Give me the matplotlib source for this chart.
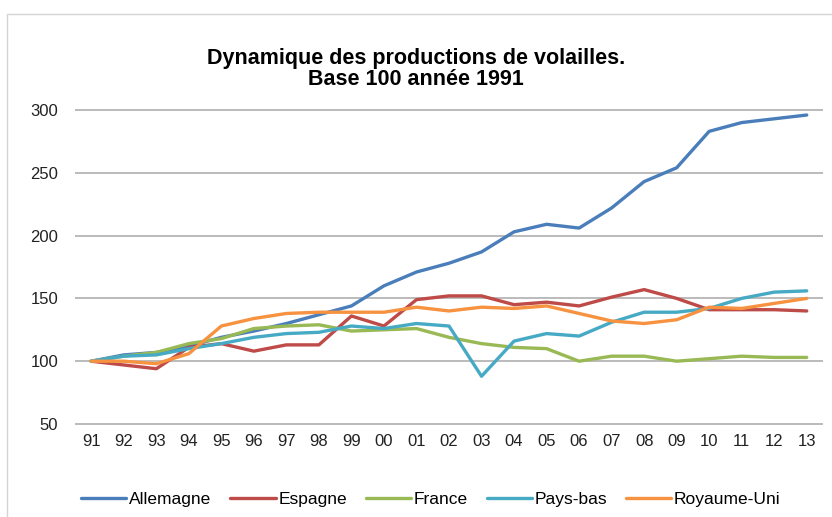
import matplotlib
matplotlib.use('Agg')
import matplotlib.pyplot as plt
from matplotlib.patches import Rectangle

plt.rcParams['font.family'] = ['Liberation Sans', 'DejaVu Sans']

years = ['91', '92', '93', '94', '95', '96', '97', '98', '99', '00', '01', '02',
         '03', '04', '05', '06', '07', '08', '09', '10', '11', '12', '13']

allemagne = [100, 105, 107, 112, 119, 124, 130, 137, 144, 160, 171, 178,
             187, 203, 209, 206, 222, 243, 254, 283, 290, 293, 296]
espagne = [100, 97, 94, 111, 114, 108, 113, 113, 136, 128, 149, 152,
           152, 145, 147, 144, 151, 157, 150, 141, 141, 141, 140]
france = [100, 104, 107, 114, 118, 126, 128, 129, 124, 125, 126, 119,
          114, 111, 110, 100, 104, 104, 100, 102, 104, 103, 103]
pays_bas = [100, 104, 105, 110, 114, 119, 122, 123, 128, 126, 130, 128,
            88, 116, 122, 120, 131, 139, 139, 142, 150, 155, 156]
royaume_uni = [100, 100, 98, 106, 128, 134, 138, 139, 139, 139, 143, 140,
               143, 142, 144, 138, 132, 130, 133, 143, 142, 146, 150]

series = [
    ('Allemagne', allemagne, '#4a7ebb'),
    ('Espagne', espagne, '#be4b48'),
    ('France', france, '#98b954'),
    ('Pays-bas', pays_bas, '#46aac5'),
    ('Royaume-Uni', royaume_uni, '#f69240'),
]
yticks = [50, 100, 150, 200, 250, 300]

fig = plt.figure(figsize=(8.32, 5.17), dpi=100)
# plot area: 50 -> y=424 px, 300 -> y=110 px (axes padded a few px each side)
ax = fig.add_axes([75 / 832, 1 - 430 / 517, (823 - 75) / 832, (430 - 106) / 517])

# chart border (only top/left visible in the crop)
fig.patches.append(Rectangle((7 / 832, -0.1), 1.2, 1 - 14 / 517 + 0.1,
                             transform=fig.transFigure, fill=False,
                             edgecolor='#d4d4d4', linewidth=1))

x = list(range(len(years)))
for name, vals, col in series:
    ax.plot(x, vals, color=col, linewidth=2.4, label=name, solid_capstyle='round')

ax.set_xlim(-0.5, len(years) - 0.5)
ax.set_ylim(50 - 6 * 250 / 314, 300 + 4 * 250 / 314)
ax.set_yticks(yticks)
ax.set_xticks(x)
ax.set_xticklabels(years)
ax.yaxis.grid(True, color='#a8a8a8', linewidth=1.1)
ax.set_axisbelow(True)
for s in ax.spines.values():
    s.set_visible(False)
ax.tick_params(length=0, labelsize=12, colors='#222222')
ax.tick_params(axis='y', pad=12)
ax.tick_params(axis='x', pad=3)

fig.text(0.5, 1 - 69 / 517, 'Dynamique des productions de volailles.\nBase 100 année 1991',
         ha='center', va='center', fontsize=15.5, fontweight='bold', linespacing=1.05)

fig.legend(loc='center', bbox_to_anchor=(431 / 832, 1 - 499 / 517), ncol=5, frameon=False,
           fontsize=12.5, handlelength=2.6, handletextpad=0.15, columnspacing=1.1)

fig.savefig('out.png', dpi=100, facecolor='white')
